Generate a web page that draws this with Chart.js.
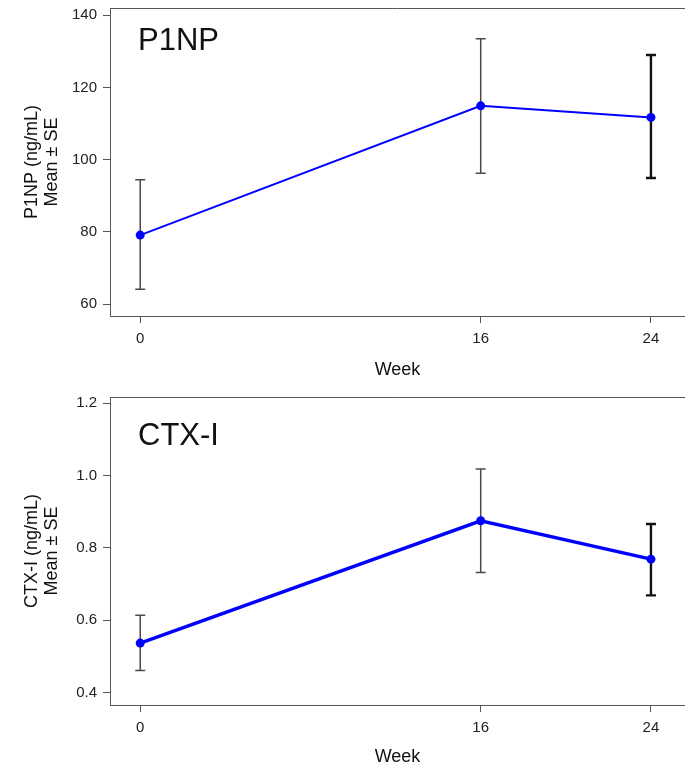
<!DOCTYPE html>
<html lang="en">
<head>
<meta charset="UTF-8">
<title>P1NP and CTX-I by week</title>
<script src="https://cdn.jsdelivr.net/npm/chart.js"></script>
<style>
  body { margin: 0; background: #fff; }
  .panel { position: absolute; left: 0; width: 685px; height: 385px; }
</style>
</head>
<body>
<div class="panel" style="top:0"><canvas id="p1npChart"></canvas></div>
<div class="panel" style="top:385px"><canvas id="ctxChart"></canvas></div>

<script>
// data
const weeks = [0, 16, 24];
const weekTicks = [0, 16, 24];

const p1npMean  = [79.1, 114.9, 111.7];
const p1npUpper = [94.4, 133.5, 129.0];
const p1npLower = [64.1, 96.2, 94.9];
const p1npTicks = [60, 80, 100, 120, 140];

const ctxMean  = [0.537, 0.875, 0.769];
const ctxUpper = [0.614, 1.018, 0.866];
const ctxLower = [0.461, 0.732, 0.669];
const ctxTicks = [0.4, 0.6, 0.8, 1.0, 1.2];

const axisColor = '#555';
const FONT = "'Liberation Sans', Arial, sans-serif";

// error bars, top frame line and the big panel label
const panelExtras = {
  id: 'panelExtras',
  beforeDatasetsDraw(chart, args, opts) {
    const { ctx, chartArea } = chart;
    const x = chart.scales.x, y = chart.scales.y;
    ctx.save();
    // top border of the box
    ctx.strokeStyle = axisColor;
    ctx.lineWidth = 1;
    ctx.beginPath();
    ctx.moveTo(chartArea.left, chartArea.top + 0.5);
    ctx.lineTo(chartArea.right, chartArea.top + 0.5);
    ctx.stroke();
    // error bars
    opts.upper.forEach((hi, i) => {
      const px = x.getPixelForValue(weeks[i]);
      const top = y.getPixelForValue(hi);
      const bot = y.getPixelForValue(opts.lower[i]);
      ctx.strokeStyle = opts.barColors[i];
      ctx.lineWidth = opts.barWidths[i];
      ctx.beginPath();
      ctx.moveTo(px, top); ctx.lineTo(px, bot);
      ctx.moveTo(px - 5, top); ctx.lineTo(px + 5, top);
      ctx.moveTo(px - 5, bot); ctx.lineTo(px + 5, bot);
      ctx.stroke();
    });
    ctx.restore();
  },
  afterDraw(chart, args, opts) {
    const { ctx, chartArea } = chart;
    ctx.save();
    ctx.fillStyle = '#111';
    ctx.font = '31px ' + FONT;
    ctx.textBaseline = 'alphabetic';
    ctx.fillText(opts.label, chartArea.left + 28, opts.labelY);
    ctx.restore();
  }
};

function makePanel(id, cfg) {
  return new Chart(document.getElementById(id), {
    type: 'line',
    data: {
      datasets: [{
        data: weeks.map((w, i) => ({ x: w, y: cfg.mean[i] })),
        borderColor: '#0000ff',
        backgroundColor: '#0000ff',
        borderWidth: cfg.lineWidth,
        pointRadius: 4.5,
        pointBorderWidth: 0,
        tension: 0
      }]
    },
    options: {
      responsive: true,
      maintainAspectRatio: false,
      animation: false,
      layout: { autoPadding: false, padding: { top: cfg.padTop, left: 0, right: 0, bottom: 0 } },
      plugins: {
        legend: { display: false },
        tooltip: { enabled: false },
        panelExtras: {
          upper: cfg.upper, lower: cfg.lower, label: cfg.label, labelY: cfg.labelY,
          barColors: ['#4a4a4a', '#4a4a4a', '#111'],
          barWidths: [1.5, 1.5, 2.4]
        }
      },
      scales: {
        x: {
          type: 'linear',
          min: -1.42,
          max: 25.6,
          afterBuildTicks: s => { s.ticks = weekTicks.map(v => ({ value: v })); },
          afterFit: s => { s.height = cfg.xHeight; s.paddingLeft = 0; s.paddingRight = 0; },
          grid: { display: true, drawOnChartArea: false, drawTicks: true, tickLength: 7, tickColor: axisColor },
          border: { display: true, color: axisColor, width: 1 },
          ticks: { color: '#222', font: { family: FONT, size: 15 }, padding: 7 },
          title: {
            display: true, text: 'Week', color: '#111',
            font: { family: FONT, size: 18, lineHeight: 1.1 },
            padding: { top: 0, bottom: cfg.xTitlePad }
          }
        },
        y: {
          min: cfg.yMin,
          max: cfg.yMax,
          afterBuildTicks: s => { s.ticks = cfg.ticks.map(v => ({ value: v })); },
          afterFit: s => { s.width = 110; s.paddingTop = 0; s.paddingBottom = 0; },
          grid: { display: true, drawOnChartArea: false, drawTicks: true, tickLength: 7, tickColor: axisColor },
          border: { display: true, color: axisColor, width: 1 },
          ticks: {
            color: '#222', font: { family: FONT, size: 15 }, padding: 6,
            callback: v => cfg.fmt(v)
          },
          title: {
            display: true, text: cfg.yTitle, color: '#111',
            font: { family: FONT, size: 18, lineHeight: 1.1 },
            padding: { top: 22, bottom: 0 }
          }
        }
      }
    },
    plugins: [panelExtras]
  });
}

makePanel('p1npChart', {
  mean: p1npMean, upper: p1npUpper, lower: p1npLower, ticks: p1npTicks,
  yMin: 56.7, yMax: 142.0, label: 'P1NP', labelY: 50,
  yTitle: ['P1NP (ng/mL)', 'Mean ± SE'], fmt: v => String(v),
  lineWidth: 2, padTop: 8, xHeight: 69, xTitlePad: 5
});

makePanel('ctxChart', {
  mean: ctxMean, upper: ctxUpper, lower: ctxLower, ticks: ctxTicks,
  yMin: 0.366, yMax: 1.217, label: 'CTX-I', labelY: 60,
  yTitle: ['CTX-I (ng/mL)', 'Mean ± SE'], fmt: v => v.toFixed(1),
  lineWidth: 3.5, padTop: 12, xHeight: 65, xTitlePad: 3
});
</script>
</body>
</html>
